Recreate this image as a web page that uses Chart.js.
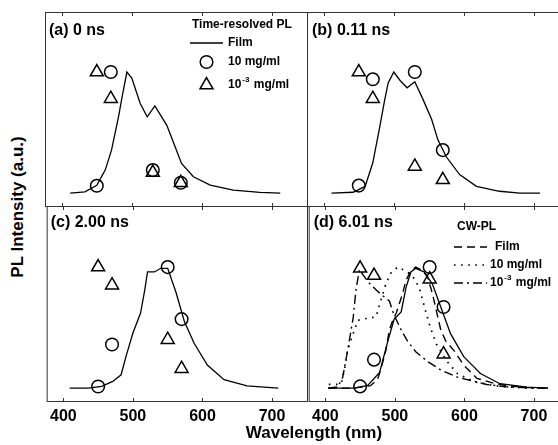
<!DOCTYPE html>
<html>
<head>
<meta charset="utf-8">
<script src="https://cdn.jsdelivr.net/npm/chart.js@4.4.1/dist/chart.umd.min.js"></script>
<style>
  body { margin: 0; background: #fff; width: 558px; height: 445px; overflow: hidden; position: relative; font-family: "Liberation Sans", Arial, sans-serif; }
  canvas { position: absolute; }
  .axt { position: absolute; font-weight: bold; font-size: 17px; white-space: nowrap; color: #000; }
</style>
</head>
<body>
<canvas id="pa" width="263" height="195" style="left:45px;top:12px"></canvas>
<canvas id="pb" width="252" height="195" style="left:307px;top:12px"></canvas>
<canvas id="pc" width="263" height="220" style="left:45px;top:206px"></canvas>
<canvas id="pd" width="252" height="220" style="left:307px;top:206px"></canvas>
<div class="axt" style="left:18px;top:207px;transform:translate(-50%,-50%) rotate(-90deg)">PL Intensity (a.u.)</div>
<div class="axt" style="left:314px;top:433px;transform:translate(-50%,-50%)">Wavelength (nm)</div>
<script>
// tick labels (nm)
const xTickLabels = [400, 500, 600, 700];

// (a) 0 ns
const filmA_nm = [412, 433, 450, 462, 471, 481, 486, 493, 500, 512, 522, 533, 550, 562, 571, 588, 612, 645, 683, 712];
const filmA = [0, 0.01, 0.065, 0.19, 0.355, 0.63, 0.79, 1.0, 0.95, 0.74, 0.63, 0.72, 0.56, 0.38, 0.245, 0.135, 0.066, 0.025, 0.006, 0];
const markA_nm = [450, 470, 530, 570];
const circA = [0.06, 1.0, 0.19, 0.085];
const triA = [1.0, 0.78, 0.17, 0.085];

// (b) 0.11 ns
const filmB_nm = [411, 442, 459, 470, 480, 487, 492, 500, 509, 519, 530, 542, 554, 563, 575, 594, 618, 651, 680, 709];
const filmB = [0, 0.007, 0.055, 0.25, 0.55, 0.77, 0.91, 1.0, 0.93, 0.87, 0.92, 0.77, 0.61, 0.44, 0.30, 0.153, 0.056, 0.015, 0, 0];
const markB_nm = [450, 470, 530, 570];
const circB = [0.062, 0.94, 1.0, 0.355];
const triB = [1.0, 0.78, 0.22, 0.11];

// (c) 2.00 ns
const filmC_nm = [409, 436, 455, 471, 483, 490, 500, 511, 517, 521, 531, 540, 550, 562, 574, 588, 607, 631, 664, 709];
const filmC = [0, 0, 0.014, 0.055, 0.11, 0.26, 0.455, 0.62, 0.81, 0.96, 0.96, 0.99, 0.99, 0.79, 0.55, 0.37, 0.19, 0.07, 0.019, 0];
const markC_nm = [450, 470, 550, 570];
const circC = [0.013, 0.36, 1.0, 0.57];
const triC = [1.0, 0.85, 0.40, 0.16];

// (d) 6.01 ns + CW-PL
const filmD_nm = [404, 442, 461, 478, 490, 499, 509, 516, 523, 530, 542, 554, 566, 580, 599, 623, 651, 690, 720];
const filmD = [0, 0, 0.022, 0.13, 0.39, 0.57, 0.63, 0.83, 0.96, 0.99, 0.96, 0.86, 0.67, 0.45, 0.26, 0.12, 0.036, 0.008, 0];
const markD_nm = [450, 470, 550, 570];
const circD = [0.014, 0.235, 1.0, 0.67];
const triD = [0.99, 0.93, 0.90, 0.28];
const cwFilm_nm = [405, 440, 465, 475, 480, 487, 492, 497, 502, 511, 516, 523, 530, 540, 547, 554, 566, 573, 585, 599, 618, 642, 661, 690, 720];
const cwFilm = [0, 0, 0.02, 0.07, 0.16, 0.31, 0.48, 0.56, 0.62, 0.78, 0.89, 0.97, 1.0, 0.97, 0.92, 0.78, 0.48, 0.39, 0.31, 0.19, 0.08, 0.04, 0.02, 0.005, 0];
const cw10_nm = [405, 418, 423, 428, 432, 440, 447, 454, 465, 473, 480, 487, 494, 504, 515, 525, 535, 544, 551, 560, 575, 590, 615, 650, 690, 720];
const cw10 = [0.03, 0.03, 0.04, 0.17, 0.31, 0.45, 0.56, 0.57, 0.58, 0.59, 0.73, 0.86, 0.95, 1.0, 0.97, 0.93, 0.83, 0.64, 0.5, 0.36, 0.22, 0.12, 0.05, 0.015, 0, 0];
const cw1e3_nm = [404, 418, 425, 432, 440, 444, 449, 455, 461, 475, 492, 499, 510, 518, 530, 547, 566, 590, 632, 661, 700, 720];
const cw1e3 = [0, 0.01, 0.09, 0.31, 0.58, 0.81, 0.98, 0.93, 0.88, 0.80, 0.72, 0.60, 0.47, 0.39, 0.30, 0.22, 0.15, 0.09, 0.03, 0.01, 0, 0];

const FONT = '"Liberation Sans", Arial, sans-serif';
const pts = (xs, ys) => xs.map((x, i) => ({ x: x, y: ys[i] }));

function lineSet(xs, ys, dash, width) {
  return { data: pts(xs, ys), showLine: true, borderColor: '#000', borderWidth: width || 1.3,
           borderDash: dash || [], pointRadius: 0, tension: 0, fill: false };
}
function markSet(xs, ys, style) {
  return { data: pts(xs, ys), showLine: false, pointStyle: style,
           pointRadius: style === 'triangle' ? 7.5 : 6.3, borderColor: '#000',
           backgroundColor: 'rgba(0,0,0,0)', pointBorderWidth: 1.5 };
}

function drawMarker(ctx, style, r, x, y) {
  ctx.beginPath();
  if (style === 'triangle') {
    ctx.moveTo(x, y - r);
    ctx.lineTo(x + r * Math.sin(2 * Math.PI / 3), y - r * Math.cos(2 * Math.PI / 3));
    ctx.lineTo(x + r * Math.sin(4 * Math.PI / 3), y - r * Math.cos(4 * Math.PI / 3));
    ctx.closePath();
  } else {
    ctx.arc(x, y, r, 0, Math.PI * 2);
  }
  ctx.stroke();
}

// frame, inward ticks, panel label and legend
const panelDecor = {
  id: 'panelDecor',
  afterDatasetsDraw(chart, args, o) {
    const ctx = chart.ctx, a = chart.chartArea, xs = chart.scales.x;
    ctx.save();
    ctx.strokeStyle = '#333';
    ctx.lineWidth = 1;
    ctx.setLineDash([]);
    ctx.strokeRect(a.left + 0.5, a.top + 0.5, a.right - a.left - 1, a.bottom - a.top - 1);
    ctx.beginPath();
    xTickLabels.forEach(v => {
      const px = Math.round(xs.getPixelForValue(v)) + 0.5;
      ctx.moveTo(px, a.bottom); ctx.lineTo(px, a.bottom - 4);
      ctx.moveTo(px, a.top); ctx.lineTo(px, a.top + 4);
    });
    ctx.stroke();

    ctx.fillStyle = '#000';
    ctx.textBaseline = 'middle';
    ctx.textAlign = 'left';
    ctx.font = 'bold 16px ' + FONT;
    ctx.fillText(o.label, a.left + o.labelX, a.top + o.labelY);

    const lg = o.legend;
    if (lg) {
      ctx.font = 'bold 12px ' + FONT;
      ctx.fillText(lg.title, lg.titleX, lg.titleY);
      lg.items.forEach(it => {
        const ds = chart.data.datasets[it.ds];
        ctx.strokeStyle = '#000';
        if (ds.showLine) {
          ctx.lineWidth = ds.borderWidth;
          ctx.setLineDash(ds.borderDash);
          ctx.beginPath();
          ctx.moveTo(lg.x0, it.y); ctx.lineTo(lg.x1, it.y);
          ctx.stroke();
          ctx.setLineDash([]);
        } else {
          ctx.lineWidth = ds.pointBorderWidth;
          drawMarker(ctx, ds.pointStyle, ds.pointRadius, (lg.x0 + lg.x1) / 2, it.y);
        }
        ctx.font = 'bold 12px ' + FONT;
        let tx = it.textX || lg.textX;
        ctx.fillText(it.text, tx, it.y);
        if (it.sup) {
          tx += ctx.measureText(it.text).width + 1;
          ctx.font = 'bold 8px ' + FONT;
          ctx.fillText(it.sup, tx, it.y - 5);
          tx += ctx.measureText(it.sup).width + 1;
          ctx.font = 'bold 12px ' + FONT;
          ctx.fillText(it.after, tx, it.y);
        }
      });
    }
    ctx.restore();
  }
};

function makePanel(id, datasets, xMax, yMax, withTicks, decor) {
  const x = {
    type: 'linear', min: 376, max: xMax, display: withTicks,
    afterBuildTicks: s => { s.ticks = xTickLabels.map(v => ({ value: v })); },
    grid: { display: false, drawTicks: false },
    border: { display: false },
    ticks: { color: '#000', padding: 5, font: { family: FONT, size: 16, weight: 'bold' } }
  };
  if (withTicks) x.afterFit = s => { s.height = 24; };
  return new Chart(document.getElementById(id), {
    type: 'scatter',
    data: { datasets: datasets },
    options: {
      responsive: false, animation: false, events: [],
      layout: { padding: 0, autoPadding: false },
      plugins: { legend: { display: false }, tooltip: { enabled: false }, panelDecor: decor },
      scales: { x: x, y: { display: false, min: -0.115, max: yMax } }
    },
    plugins: [panelDecor]
  });
}

const tlLegend = {
  title: 'Time-resolved PL', titleX: 147, titleY: 13, x0: 145, x1: 178, textX: 183,
  items: [
    { ds: 0, y: 31, text: 'Film' },
    { ds: 1, y: 50, text: '10 mg/ml' },
    { ds: 2, y: 73, text: '10', sup: '-3', after: ' mg/ml' }
  ]
};

makePanel('pa', [lineSet(filmA_nm, filmA), markSet(markA_nm, circA, 'circle'), markSet(markA_nm, triA, 'triangle')],
  751.7, 1.496, false, { label: '(a) 0 ns', labelX: 4, labelY: 19, legend: tlLegend });

makePanel('pb', [lineSet(filmB_nm, filmB), markSet(markB_nm, circB, 'circle'), markSet(markB_nm, triB, 'triangle')],
  736, 1.496, false, { label: '(b) 0.11 ns', labelX: 5, labelY: 19 });

makePanel('pc', [lineSet(filmC_nm, filmC), markSet(markC_nm, circC, 'circle'), markSet(markC_nm, triC, 'triangle')],
  751.7, 1.505, true, { label: '(c) 2.00 ns', labelX: 4, labelY: 17 });

makePanel('pd', [
    lineSet(cwFilm_nm, cwFilm, [8, 5], 1.4),
    lineSet(cw10_nm, cw10, [1.6, 5.5], 1.7),
    lineSet(cw1e3_nm, cw1e3, [9, 4, 2, 4], 1.4),
    lineSet(filmD_nm, filmD),
    markSet(markD_nm, circD, 'circle'),
    markSet(markD_nm, triD, 'triangle')
  ],
  736, 1.505, true, {
    label: '(d) 6.01 ns', labelX: 5, labelY: 17,
    legend: {
      title: 'CW-PL', titleX: 150, titleY: 21, x0: 147, x1: 180, textX: 183,
      items: [
        { ds: 0, y: 41, text: 'Film', textX: 188 },
        { ds: 1, y: 59, text: '10 mg/ml' },
        { ds: 2, y: 77, text: '10', sup: '-3', after: ' mg/ml' }
      ]
    }
  });
</script>
</body>
</html>
